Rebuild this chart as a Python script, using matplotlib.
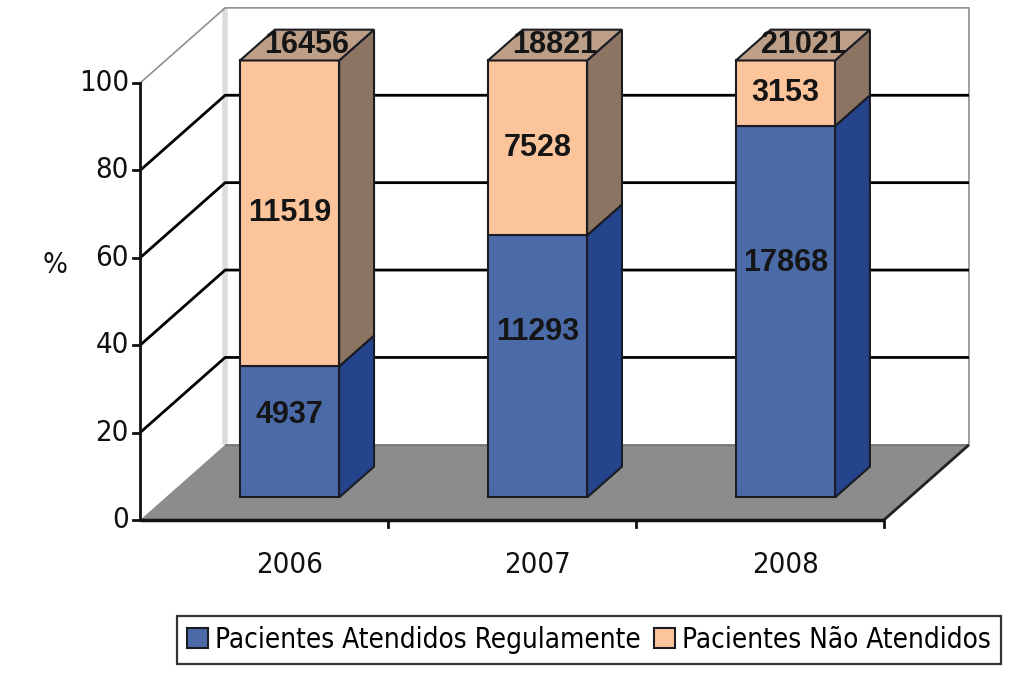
import matplotlib.pyplot as plt
from matplotlib.patches import Polygon

years = ['2006', '2007', '2008']
atendidos = [4937, 11293, 17868]
nao_atendidos = [11519, 7528, 3153]
totais = [16456, 18821, 21021]
yticks = [0, 20, 40, 60, 80, 100]
legend_labels = ['Pacientes Atendidos Regulamente', 'Pacientes Não Atendidos']

# fake 3d: depth shift per unit depth (x in category units, y in percent)
OX, OY = 0.343, 17.2
Z_FRONT, Z_BACK = 0.30, 0.71
W = 0.40
BLUE_LABEL_FRAC = 0.63

BLUE, BLUE_SIDE = '#4a6aa8', '#24448c'
ORANGE, ORANGE_SIDE, ORANGE_TOP = '#fcc49a', '#8b7462', '#bc9f86'
FLOOR = '#8c8c8c'
EDGE = '#1b1b24'

REG = dict(family=['DejaVu Sans'], fontstretch='condensed', color='#111111')
BOLD = dict(family=['Liberation Sans', 'DejaVu Sans'], fontweight='bold', color='#151515')


def proj(x, y, z):
    return (x + z * OX, y + z * OY)


def face(ax, pts, color, zo=4):
    ax.add_patch(Polygon(pts, closed=True, facecolor=color, edgecolor=EDGE,
                         lw=1.5, joinstyle='miter', zorder=zo))


def line(ax, pts, color='black', lw=2, zo=2):
    xs, ys = zip(*pts)
    ax.plot(xs, ys, color=color, lw=lw, zorder=zo, solid_capstyle='butt')


fig = plt.figure(figsize=(10.24, 6.83), dpi=100)
ax = fig.add_axes([0, 0, 1, 1])
ax.set_xlim(-1.065, 3.065)
ax.set_ylim(-37.3, 119.0)
ax.axis('off')

x0, x1 = -0.5, len(years) - 0.5

# walls and floor
ax.add_patch(Polygon([proj(x0, 0, 0), proj(x0, 100, 0), proj(x0, 100, 1), proj(x0, 0, 1)],
                     facecolor='white', edgecolor='none', zorder=1))
ax.add_patch(Polygon([proj(x0, 0, 1), proj(x1, 0, 1), proj(x1, 100, 1), proj(x0, 100, 1)],
                     facecolor='white', edgecolor='none', zorder=1))
line(ax, [proj(x0, 0, 1), proj(x0, 100, 1)], color='#dcdcdc', lw=4, zo=1.5)
line(ax, [proj(x0, 100, 0), proj(x0, 100, 1), proj(x1, 100, 1), proj(x1, 0, 1)],
     color='#8f8f8f', lw=1.2)
for v in yticks[1:-1]:
    line(ax, [proj(x0, v, 0), proj(x0, v, 1), proj(x1, v, 1)], lw=2)

ax.add_patch(Polygon([proj(x0, 0, 0), proj(x1, 0, 0), proj(x1, 0, 1), proj(x0, 0, 1)],
                     facecolor=FLOOR, edgecolor='none', zorder=2.5))
line(ax, [proj(x0, 0, 1), proj(x1, 0, 1)], color='#6e6e6e', lw=1.2, zo=2.6)
line(ax, [proj(x1, 0, 0), proj(x1, 0, 1)], color='#222222', lw=2, zo=2.6)
line(ax, [proj(x0, 0, 0), proj(x1, 0, 0)], color='#111111', lw=2.5, zo=2.7)

# y axis on the front plane
line(ax, [proj(x0, 0, 0), proj(x0, 100, 0)], color='#111111', lw=2, zo=2.7)
for v in yticks:
    ax.plot([x0 - 0.03, x0], [v, v], color='#111111', lw=2, zorder=2.7)
    ax.text(x0 - 0.045, v, str(v), ha='right', va='center', fontsize=21, **REG)
for i in range(1, len(years) + 1):
    ax.plot([x0 + i, x0 + i], [0, -1.7], color='#111111', lw=2, zorder=2.7)
ax.text(-0.843, 58.4, '%', ha='center', va='center', fontsize=21, **REG)

# bars
xs = list(range(len(years)))
pct_a = [a / t * 100 for a, t in zip(atendidos, totais)]
pct_n = [n / t * 100 for n, t in zip(nao_atendidos, totais)]
fx = [x + Z_FRONT * OX for x in xs]
b_a = ax.bar(fx, pct_a, bottom=Z_FRONT * OY, width=W, color=BLUE, edgecolor=EDGE,
             lw=1.5, zorder=4, label=legend_labels[0])
b_n = ax.bar(fx, pct_n, bottom=[p + Z_FRONT * OY for p in pct_a], width=W, color=ORANGE,
             edgecolor=EDGE, lw=1.5, zorder=4, label=legend_labels[1])

for x, pa, pn, a, n, t in zip(xs, pct_a, pct_n, atendidos, nao_atendidos, totais):
    xr = x + W / 2
    xl = x - W / 2
    face(ax, [proj(xr, 0, Z_FRONT), proj(xr, 0, Z_BACK), proj(xr, pa, Z_BACK), proj(xr, pa, Z_FRONT)],
         BLUE_SIDE)
    face(ax, [proj(xr, pa, Z_FRONT), proj(xr, pa, Z_BACK), proj(xr, pa + pn, Z_BACK),
              proj(xr, pa + pn, Z_FRONT)], ORANGE_SIDE)
    top = pa + pn
    face(ax, [proj(xl, top, Z_FRONT), proj(xr, top, Z_FRONT), proj(xr, top, Z_BACK),
              proj(xl, top, Z_BACK)], ORANGE_TOP)

    cx, cy = proj(x, pa * BLUE_LABEL_FRAC, Z_FRONT)
    ax.text(cx, cy, str(a), ha='center', va='center', fontsize=22, zorder=6, **BOLD)
    cx, cy = proj(x, pa + pn / 2, Z_FRONT)
    ax.text(cx, cy, str(n), ha='center', va='center', fontsize=22, zorder=6, **BOLD)
    cx, cy = proj(x, top, (Z_FRONT + Z_BACK) / 2)
    ax.text(cx, cy, str(t), ha='center', va='center', fontsize=22, zorder=6, **BOLD)

    lx, _ = proj(x, 0, Z_FRONT)
    ax.text(lx, -10.3, years[x], ha='center', va='center', fontsize=21, **REG)

leg = fig.legend(handles=[b_a, b_n], labels=legend_labels, loc='center',
                 bbox_to_anchor=(0.575, 0.063), ncol=2,
                 prop=dict(family='DejaVu Sans', stretch='condensed', size=20),
                 frameon=True, fancybox=False, handlelength=0.75, handleheight=0.75,
                 handletextpad=0.25, columnspacing=0.5, borderpad=0.35,
                 borderaxespad=0)
leg.get_frame().set_edgecolor('black')
leg.get_frame().set_linewidth(1.6)

fig.savefig('out.png', dpi=100, facecolor='white')
